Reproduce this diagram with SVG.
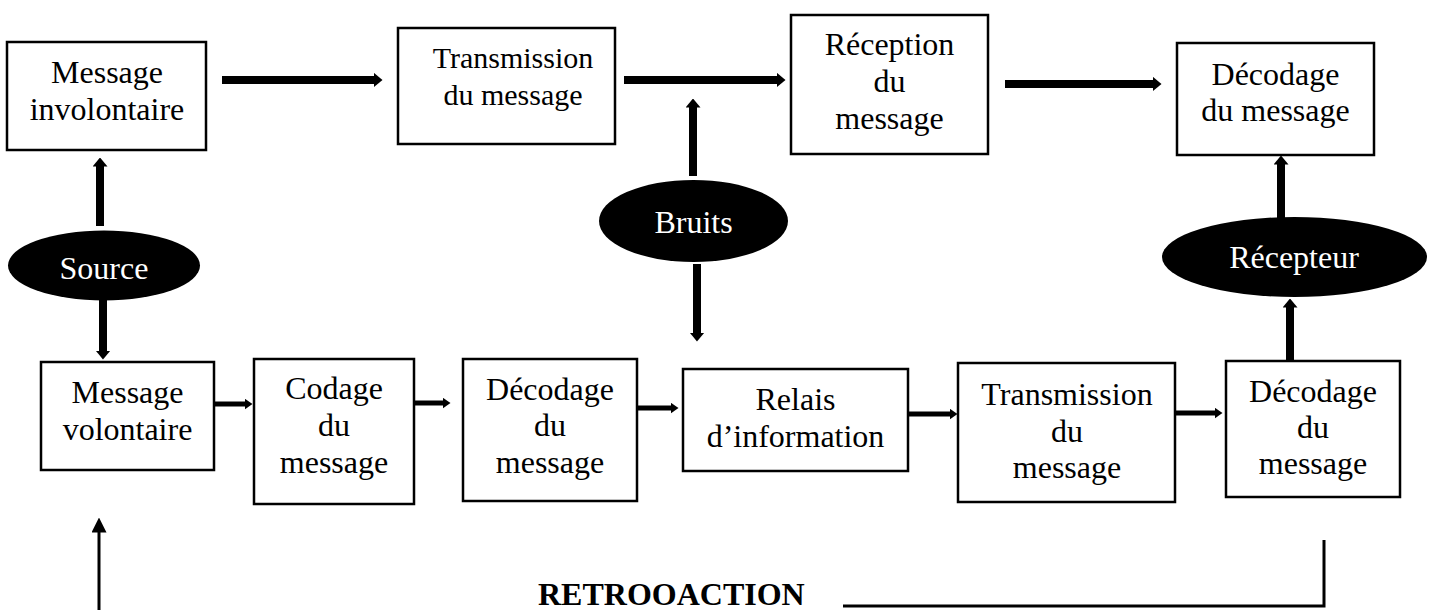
<svg xmlns="http://www.w3.org/2000/svg" width="1434" height="610" viewBox="0 0 1434 610">
<style>
  .box { fill: #ffffff; stroke: #000000; stroke-width: 2.5; }
  .ell { fill: #000000; }
  .t { font-family: "Liberation Serif", "Times New Roman", serif; font-size: 32px; fill: #000000; text-anchor: middle; }
  .tw { font-family: "Liberation Serif", "Times New Roman", serif; font-size: 32px; fill: #ffffff; text-anchor: middle; }
  .tb { font-family: "Liberation Serif", "Times New Roman", serif; font-size: 32px; font-weight: bold; fill: #000000; }
  .big { fill: none; stroke: #000000; stroke-width: 8; marker-end: url(#hBig); }
  .small { fill: none; stroke: #000000; stroke-width: 5; marker-end: url(#hSmall); }
  .thin { fill: none; stroke: #000000; stroke-width: 3; marker-end: url(#hThin); }
  .fb { fill: none; stroke: #000000; stroke-width: 3; }
</style>
<defs>
  <marker id="hBig" viewBox="0 0 9 15" refX="0.5" refY="7.5" markerWidth="9" markerHeight="15" markerUnits="userSpaceOnUse" orient="auto">
    <path d="M0,0 L9,7.5 L0,15 z" fill="#000000"/>
  </marker>
  <marker id="hSmall" viewBox="0 0 8 11" refX="0.5" refY="5.5" markerWidth="8" markerHeight="11" markerUnits="userSpaceOnUse" orient="auto">
    <path d="M0,0 L8,5.5 L0,11 z" fill="#000000"/>
  </marker>
  <marker id="hThin" viewBox="0 0 15 15" refX="0.5" refY="7.5" markerWidth="15" markerHeight="15" markerUnits="userSpaceOnUse" orient="auto">
    <path d="M0,0 L15,7.5 L0,15 z" fill="#000000"/>
  </marker>
</defs>

<g id="connectors">
  <path class="big" d="M222,80 L374,80"/>
  <path class="big" d="M624,80 L777,80"/>
  <path class="big" d="M1005,84 L1153,84"/>
  <path class="big" d="M100,226 L100,166"/>
  <path class="big" d="M103,300 L103,351"/>
  <path class="big" d="M693,176 L693,107"/>
  <path class="big" d="M697,264 L697,333"/>
  <path class="big" d="M1281,218 L1281,164"/>
  <path class="big" d="M1290,361 L1290,307"/>
  <path class="small" d="M215,404 L245,404"/>
  <path class="small" d="M415,403 L443,403"/>
  <path class="small" d="M638,408 L671,408"/>
  <path class="small" d="M908,414 L950,414"/>
  <path class="small" d="M1175,413 L1215,413"/>
  <path class="thin" d="M99,610 L99,532"/>
  <polyline class="fb" points="843,606 1324,606 1324,540"/>
</g>

<g id="msg-involontaire">
  <rect class="box" x="7" y="42" width="199" height="108"/>
  <text class="t" x="107" y="83">Message</text>
  <text class="t" x="107" y="120">involontaire</text>
</g>
<g id="transmission-top">
  <rect class="box" x="398" y="28" width="217" height="116"/>
  <text class="t" x="513" y="68" style="font-size:30px">Transmission</text>
  <text class="t" x="513" y="105" style="font-size:30px">du message</text>
</g>
<g id="reception">
  <rect class="box" x="791" y="15" width="197" height="139"/>
  <text class="t" x="889.5" y="55">Réception</text>
  <text class="t" x="889.5" y="92">du</text>
  <text class="t" x="889.5" y="129">message</text>
</g>
<g id="decodage-top">
  <rect class="box" x="1177" y="43" width="197" height="112"/>
  <text class="t" x="1275.5" y="85">Décodage</text>
  <text class="t" x="1275.5" y="121">du message</text>
</g>

<g id="source">
  <ellipse class="ell" cx="104" cy="265.5" rx="96" ry="35"/>
  <text class="tw" x="104" y="279">Source</text>
</g>
<g id="bruits">
  <ellipse class="ell" cx="693.5" cy="221" rx="94.5" ry="41"/>
  <text class="tw" x="693.5" y="233">Bruits</text>
</g>
<g id="recepteur">
  <ellipse class="ell" cx="1294.5" cy="257" rx="132.5" ry="40"/>
  <text class="tw" x="1294" y="268">Récepteur</text>
</g>

<g id="msg-volontaire">
  <rect class="box" x="41" y="362" width="173" height="108"/>
  <text class="t" x="127.5" y="403">Message</text>
  <text class="t" x="127.5" y="440">volontaire</text>
</g>
<g id="codage">
  <rect class="box" x="254" y="359" width="160" height="145"/>
  <text class="t" x="334" y="399">Codage</text>
  <text class="t" x="334" y="436">du</text>
  <text class="t" x="334" y="473">message</text>
</g>
<g id="decodage-1">
  <rect class="box" x="463" y="359" width="174" height="142"/>
  <text class="t" x="550" y="400">Décodage</text>
  <text class="t" x="550" y="436">du</text>
  <text class="t" x="550" y="473">message</text>
</g>
<g id="relais">
  <rect class="box" x="683" y="369" width="225" height="102"/>
  <text class="t" x="795.5" y="410">Relais</text>
  <text class="t" x="795.5" y="447">d’information</text>
</g>
<g id="transmission-bottom">
  <rect class="box" x="958" y="363" width="217" height="139"/>
  <text class="t" x="1067" y="405">Transmission</text>
  <text class="t" x="1067" y="442">du</text>
  <text class="t" x="1067" y="478">message</text>
</g>
<g id="decodage-2">
  <rect class="box" x="1226" y="361" width="174" height="136"/>
  <text class="t" x="1313" y="402">Décodage</text>
  <text class="t" x="1313" y="438">du</text>
  <text class="t" x="1313" y="474">message</text>
</g>

<g id="retroaction">
  <text class="tb" x="538" y="605">RETROOACTION</text>
</g>
</svg>
